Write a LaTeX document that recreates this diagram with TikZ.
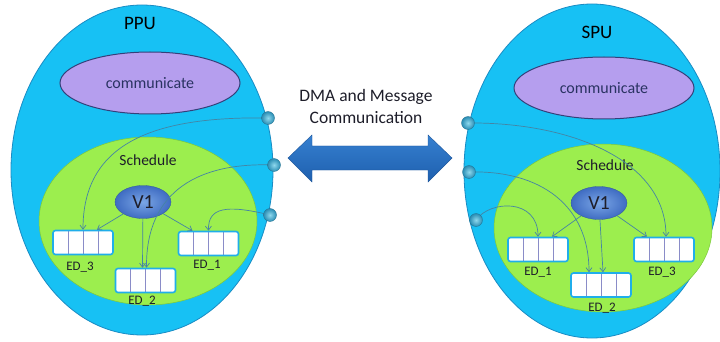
\documentclass[tikz,border=0pt]{standalone}
\usepackage{fontspec}
\setmainfont{Carlito}
\usetikzlibrary{shapes.geometric,arrows.meta,shadings,calc}

\definecolor{unitblue}{HTML}{17C1F4}
\definecolor{unitedge}{HTML}{1A8CC4}
\definecolor{commfill}{HTML}{B59EEE}
\definecolor{commedge}{HTML}{34407A}
\definecolor{schedfill}{HTML}{9CEE4E}
\definecolor{schededge}{HTML}{7CC83C}
\definecolor{vinner}{HTML}{7AA6E6}
\definecolor{vouter}{HTML}{3F6CC2}
\definecolor{linkcol}{HTML}{4584A4}
\definecolor{boxedge}{HTML}{20AEEA}
\definecolor{celldiv}{HTML}{8A8CC8}
\definecolor{portlight}{HTML}{8FD9EE}
\definecolor{portdark}{HTML}{2A8DB4}
\definecolor{arrowtop}{HTML}{3680D0}
\definecolor{arrowbot}{HTML}{1E5FAE}
\definecolor{arrowedge}{HTML}{1D569C}
\definecolor{textdark}{HTML}{1E1E2A}

\tikzset{
  unit/.style={ellipse, inner sep=0pt, fill=unitblue, draw=unitedge, line width=0.8pt},
  comm/.style={ellipse, inner sep=0pt, minimum width=180pt, minimum height=62pt,
    fill=commfill, draw=commedge, line width=1pt, text=commedge!80!black,
    font=\fontsize{16}{19}\selectfont},
  sched/.style={ellipse, inner sep=0pt, minimum width=218pt, minimum height=168pt,
    fill=schedfill, draw=schededge, line width=0.5pt},
  vnode/.style={ellipse, inner sep=0pt, minimum width=56pt, minimum height=33pt,
    inner color=vinner, outer color=vouter, draw=vouter!80!black, line width=0.3pt,
    text=textdark, font=\fontsize{20}{24}\selectfont},
  edbox/.style={rectangle, rounded corners=2.5pt, minimum width=60pt, minimum height=24pt,
    fill=white, draw=boxedge, line width=1.6pt,
    path picture={
      \foreach \f in {0.25,0.5,0.75}
        \draw[celldiv, line width=0.7pt]
          ($(path picture bounding box.south west)!\f!(path picture bounding box.south east)$) --
          ($(path picture bounding box.north west)!\f!(path picture bounding box.north east)$);
    }},
  edlabel/.style={text=textdark, font=\fontsize{13}{15}\selectfont, inner sep=0pt},
  title/.style={text=black, font=\fontsize{19}{22}\selectfont, inner sep=0pt},
  schedlabel/.style={text=textdark, font=\fontsize{15.5}{18}\selectfont, inner sep=0pt},
  port/.style={circle, inner sep=0pt, minimum size=13pt, inner color=portlight,
    outer color=portdark, draw=portdark!80!black, line width=0.3pt},
  link/.style={draw=linkcol, line width=0.7pt, -{Straight Barb[length=4pt,width=6pt]}},
}

\begin{document}
\begin{tikzpicture}[x=1pt, y=-1pt]
\useasboundingbox (0,0) rectangle (720,342);
\fill[white] (0,0) rectangle (720,342);

% ---------------- PPU side ----------------
\node[unit, minimum width=262pt, minimum height=330pt] (ppu) at (142,170) {};
\node[title] (ppuT) at (140,23) {PPU};
\node[comm] (ppuC) at (150,83) {communicate};
\node[sched] (ppuS) at (148,221) {};
\node[schedlabel] (ppuSL) at (148,160) {Schedule};
\node[vnode] (ppuV) at (143,202) {V1};
\node[edbox] (ppuE3) at (83,242.5) {};
\node[edbox] (ppuE2) at (145.5,280.5) {};
\node[edbox] (ppuE1) at (208.5,243.5) {};
\node[edlabel] (ppuL3) at (80,267) {ED\_3};
\node[edlabel] (ppuL2) at (142,301) {ED\_2};
\node[edlabel] (ppuL1) at (207,265) {ED\_1};

\coordinate (pp1) at (268,118);
\coordinate (pp2) at (274,165);
\coordinate (pp3) at (270,215);

\draw[link] (ppuV) -- ([xshift=14pt]ppuE3.north);
\draw[link] (ppuV) -- ([xshift=-3pt]ppuE2.north);
\draw[link] (ppuV) -- ([xshift=-16pt]ppuE1.north);
\draw[link] (pp1) .. controls (150,116) and (83,145) .. (ppuE3.north);
\draw[link] (pp2) .. controls (200,162) and (146,190) .. ([xshift=1pt]ppuE2.north);
\draw[link] (pp3) .. controls (225,204) and (208,208) .. (ppuE1.north);
% ports sit on top of the links
\node[port] (ppuP1) at (pp1) {};
\node[port] (ppuP2) at (pp2) {};
\node[port] (ppuP3) at (pp3) {};

% ---------------- SPU side ----------------
\node[unit, minimum width=256pt, minimum height=334pt] (spu) at (592,171) {};
\node[title] (spuT) at (597,32) {SPU};
\node[comm] (spuC) at (604,88) {communicate};
\node[sched] (spuS) at (603,228) {};
\node[schedlabel] (spuSL) at (605,165) {Schedule};
\node[vnode] (spuV) at (599,203) {V1};
\node[edbox] (spuE1) at (538,249.5) {};
\node[edbox] (spuE2) at (601,285) {};
\node[edbox] (spuE3) at (664,249.5) {};
\node[edlabel] (spuL1) at (538,272) {ED\_1};
\node[edlabel] (spuL2) at (602,308) {ED\_2};
\node[edlabel] (spuL3) at (662,272) {ED\_3};

\coordinate (sp1) at (468,123);
\coordinate (sp2) at (469,172);
\coordinate (sp3) at (476,220);

\draw[link] (spuV) -- ([xshift=14pt]spuE1.north);
\draw[link] (spuV) -- ([xshift=2pt]spuE2.north);
\draw[link] (spuV) -- ([xshift=-17pt]spuE3.north);
\draw[link] (sp1) .. controls (570,122) and (666,160) .. ([xshift=2pt]spuE3.north);
\draw[link] (sp2) .. controls (540,170) and (589,205) .. ([xshift=-12pt]spuE2.north);
\draw[link] (sp3) .. controls (490,200) and (538,198) .. (spuE1.north);
\node[port] (spuP1) at (sp1) {};
\node[port] (spuP2) at (sp2) {};
\node[port] (spuP3) at (sp3) {};

% ---------------- DMA channel ----------------
\node[text=textdark, font=\fontsize{17.5}{22}\selectfont, align=center, inner sep=0pt]
  (dma) at (366,106) {DMA and Message\\Communication};
\shade[top color=arrowtop, bottom color=arrowbot, draw=arrowedge, line width=0.4pt]
  (288,158) -- (312,135) -- (312,146) -- (428,146) -- (428,135) -- (452,158)
  -- (428,182) -- (428,170) -- (312,170) -- (312,182) -- cycle;
\end{tikzpicture}
\end{document}
